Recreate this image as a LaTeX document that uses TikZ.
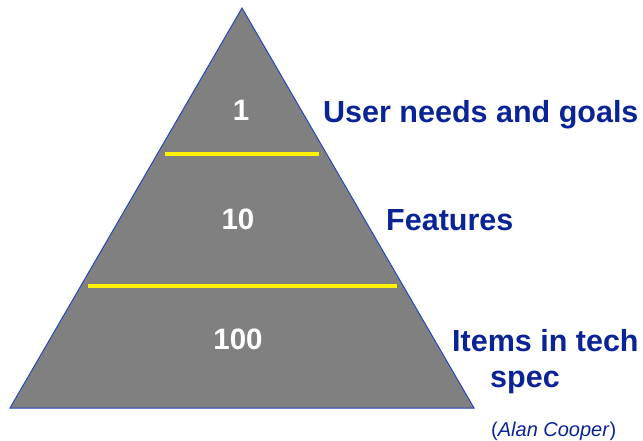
\documentclass[tikz,border=0pt]{standalone}
\usepackage{fontspec}
\setmainfont{Liberation Sans}
\definecolor{pyrgray}{RGB}{128,128,128}
\definecolor{pyredge}{RGB}{40,70,190}
\definecolor{lblblue}{RGB}{10,36,150}
\tikzstyle{num}=[text=white,font=\fontsize{29.5}{32}\selectfont\bfseries,inner sep=0pt]
\tikzstyle{lbl}=[text=lblblue,font=\fontsize{30.5}{33}\selectfont\bfseries,anchor=base west,inner sep=0pt]
\tikzstyle{bar}=[draw=yellow,line width=4.5pt]

\begin{document}
\begin{tikzpicture}[x=1pt,y=-1pt]
\useasboundingbox (0,0) rectangle (643,440);
% pyramid
\draw[fill=pyrgray,draw=pyredge,line width=1pt] (242,8) -- (474,408) -- (10,408) -- cycle;
\draw[bar] (165,154) -- (319,154);
\draw[bar] (88,286) -- (397,286);
% levels
\node[num] (n1) at (241,110) {1};
\node[num] (n10) at (238,219) {10};
\node[num] (n100) at (238,339) {100};
\node[lbl] (goals) at (323,122) {User needs and goals};
\node[lbl] (feat) at (386,230) {Features};
\node[lbl] (items) at (452,351) {Items in tech};
\node[lbl] (spec) at (490,387) {spec};
\node[anchor=base west,inner sep=0pt,text=lblblue,font=\fontsize{20}{22}\selectfont] (cite) at (491,436) {(\textit{Alan Cooper})};
\end{tikzpicture}
\end{document}
